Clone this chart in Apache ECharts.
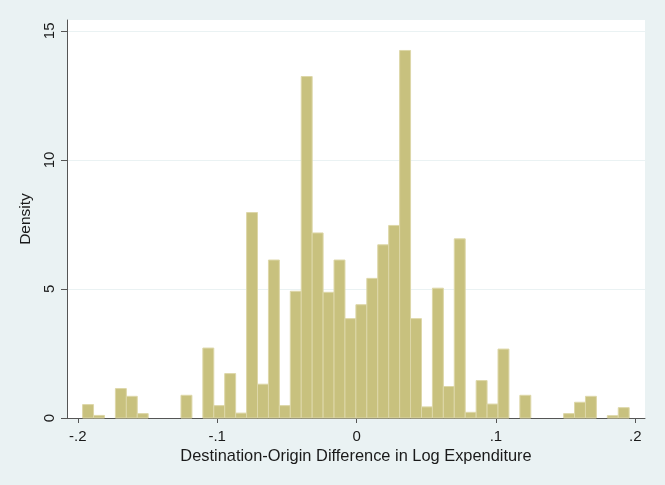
<!DOCTYPE html>
<html>
<head>
<meta charset="utf-8">
<script src="https://cdn.jsdelivr.net/npm/echarts@6/dist/echarts.min.js"></script>
<style>
  html, body { margin: 0; padding: 0; background: #eaf2f3; }
  #chart { width: 665px; height: 485px; }
</style>
</head>
<body>
<div id="chart"></div>
<script>
// histogram bins: lower edge of the first bin and the common bin width
const binStart = -0.1966
const binWidth = 0.007845
const density = [
  0.52, 0.10, 0, 1.14, 0.84, 0.17, 0, 0, 0, 0.88,
  0, 2.71, 0.48, 1.72, 0.19, 7.96, 1.31, 6.12, 0.48, 4.91,
  13.23, 7.17, 4.87, 6.12, 3.85, 4.39, 5.41, 6.71, 7.46, 14.24,
  3.85, 0.43, 5.03, 1.22, 6.94, 0.22, 1.45, 0.54, 2.67, 0,
  0.88, 0, 0, 0, 0.17, 0.61, 0.84, 0, 0.09, 0.40,
]
const xTicks = [-0.2, -0.1, 0, 0.1, 0.2]
const yTicks = [0, 5, 10, 15]
const xTickLabels = ['-.2', '-.1', '0', '.1', '.2']

const bins = density.map((d, i) => [binStart + i * binWidth, binStart + (i + 1) * binWidth, d])

const chart = echarts.init(document.getElementById('chart'))
const font = 'Liberation Sans, Arial, sans-serif'

chart.setOption({
  animation: false,
  backgroundColor: '#eaf2f3',
  grid: {
    left: 67, right: 20, top: 20, bottom: 67,
    show: true, backgroundColor: '#ffffff', borderWidth: 0,
  },
  xAxis: {
    type: 'value',
    min: -0.2078,
    max: 0.2070,
    name: 'Destination-Origin Difference in Log Expenditure',
    nameLocation: 'middle',
    nameGap: 27,
    nameTextStyle: { color: '#1a1a1a', fontSize: 16.4, fontFamily: font },
    axisLine: { show: true, onZero: false, lineStyle: { color: '#555', width: 1 } },
    axisTick: { show: true, length: 5, customValues: xTicks, lineStyle: { color: '#555' } },
    axisLabel: {
      customValues: xTicks,
      color: '#1a1a1a', fontSize: 15, fontFamily: font, margin: 11,
      formatter: v => xTickLabels[xTicks.findIndex(t => Math.abs(t - v) < 1e-6)] ?? '',
    },
    splitLine: { show: false },
  },
  yAxis: {
    type: 'value',
    min: 0,
    max: 15.42,
    name: 'Density',
    nameLocation: 'middle',
    nameGap: 27,
    nameTextStyle: { color: '#1a1a1a', fontSize: 15.5, fontFamily: font },
    axisLine: { show: true, onZero: false, lineStyle: { color: '#555', width: 1 } },
    axisTick: { show: true, length: 6, customValues: yTicks, lineStyle: { color: '#555' } },
    axisLabel: {
      customValues: yTicks,
      rotate: 90,
      color: '#1a1a1a', fontSize: 15, fontFamily: font, margin: 10,
    },
    splitLine: { show: true, lineStyle: { color: '#eaf2f3', width: 1 } },
  },
  series: [
    {
      type: 'custom',
      data: bins,
      renderItem: (params, api) => {
        const p0 = api.coord([api.value(0), api.value(2)])
        const p1 = api.coord([api.value(1), 0])
        if (api.value(2) <= 0) return null
        return {
          type: 'rect',
          shape: { x: p0[0], y: p0[1], width: p1[0] - p0[0], height: p1[1] - p0[1] },
          style: { fill: '#c8c17e', stroke: '#ddd7a8', lineWidth: 1 },
        }
      },
      encode: { x: [0, 1], y: 2 },
    },
  ],
})
</script>
</body>
</html>
